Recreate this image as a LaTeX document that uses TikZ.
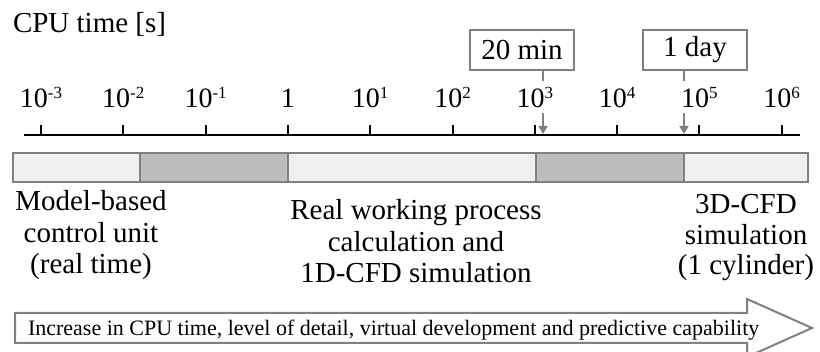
\documentclass[tikz,border=0pt]{standalone}
\usepackage{fontspec}
\setmainfont{Liberation Serif}
\usetikzlibrary{arrows.meta,calc}
\definecolor{lightbar}{HTML}{F0F0F0}
\definecolor{darkbar}{HTML}{BDBDBD}
\definecolor{edgegray}{HTML}{808080}
\newcommand\supx[1]{\raisebox{9pt}{\fontsize{17}{17}\selectfont #1}}
\begin{document}
\begin{tikzpicture}[x=1pt,y=-1pt,
  every node/.style={inner sep=0pt,outer sep=0pt},
  bigtext/.style={font=\fontsize{29}{31.5}\selectfont},
  ticklabel/.style={font=\fontsize{28}{30}\selectfont,anchor=base},
  band/.style={draw=edgegray,line width=1.5pt},
  markbox/.style={draw=edgegray,line width=1.5pt,minimum width=104pt,minimum height=40pt,font=\fontsize{29}{31}\selectfont},
  pointer/.style={draw=edgegray,line width=2pt},
  pointertip/.style={pointer,-{Triangle[width=9pt,length=8pt]}},
  grouptext/.style={bigtext,align=center,anchor=base}]
\useasboundingbox (0,0) rectangle (820,352);

% title
\node[bigtext,anchor=base west] (title) at (13,33) {CPU time [s]};

% axis
\coordinate (axL) at (24,135);
\coordinate (axR) at (800,135);
\draw[line width=2pt] (axL) -- (axR);
\foreach \i/\lab in {0/{10\supx{-3}},1/{10\supx{-2}},2/{10\supx{-1}},3/{1},4/{10\supx{1}},5/{10\supx{2}},6/{10\supx{3}},7/{10\supx{4}},8/{10\supx{5}},9/{10\supx{6}}}{
  \coordinate (tb\i) at ({41+82.3*\i},135);
  \coordinate (tt\i) at ({41+82.3*\i},125);
  \draw[line width=2pt] (tb\i) -- (tt\i);
  \node[ticklabel] (lab\i) at ({41+82.3*\i},108) {\lab};
}

% band
\filldraw[band,fill=lightbar] (13,153) rectangle (140,182);
\filldraw[band,fill=darkbar] (140,153) rectangle (288,182);
\filldraw[band,fill=lightbar] (288,153) rectangle (536,182);
\filldraw[band,fill=darkbar] (536,153) rectangle (684,182);
\filldraw[band,fill=lightbar] (684,153) rectangle (808,182);

% marker boxes
\node[markbox] (min20) at (522,50) {20 min};
\node[markbox] (day1) at (695,50) {1 day};
\coordinate (m1) at (543,81);
\coordinate (m1s) at (543,113);
\coordinate (m1e) at (543,134);
\coordinate (d1) at (684,81);
\coordinate (d1s) at (684,113);
\coordinate (d1e) at (684,134);
\draw[pointer] (min20.south -| m1) -- (m1);
\draw[pointertip] (m1s) -- (m1e);
\draw[pointer] (day1.south -| d1) -- (d1);
\draw[pointertip] (d1s) -- (d1e);

% group texts (base anchor = baseline of last line)
\node[grouptext] (ctrl) at (91,274) {Model-based\\control unit\\(real time)};
\node[grouptext] (rwp) at (416,283) {Real working process\\calculation and\\1D-CFD simulation};
\node[grouptext,font=\fontsize{29}{30.5}\selectfont] (cfd) at (746,275) {3D-CFD\\simulation\\(1 cylinder)};

% big arrow
\draw[draw=edgegray,line width=2pt,fill=white] (15,313) -- (747,313) -- (747,299) -- (812,328) -- (747,357) -- (747,343) -- (15,343) -- cycle;
\node[font=\fontsize{22}{24}\selectfont,anchor=base west] (caption) at (28,336) {Increase in CPU time, level of detail, virtual development and predictive capability};
\end{tikzpicture}
\end{document}
